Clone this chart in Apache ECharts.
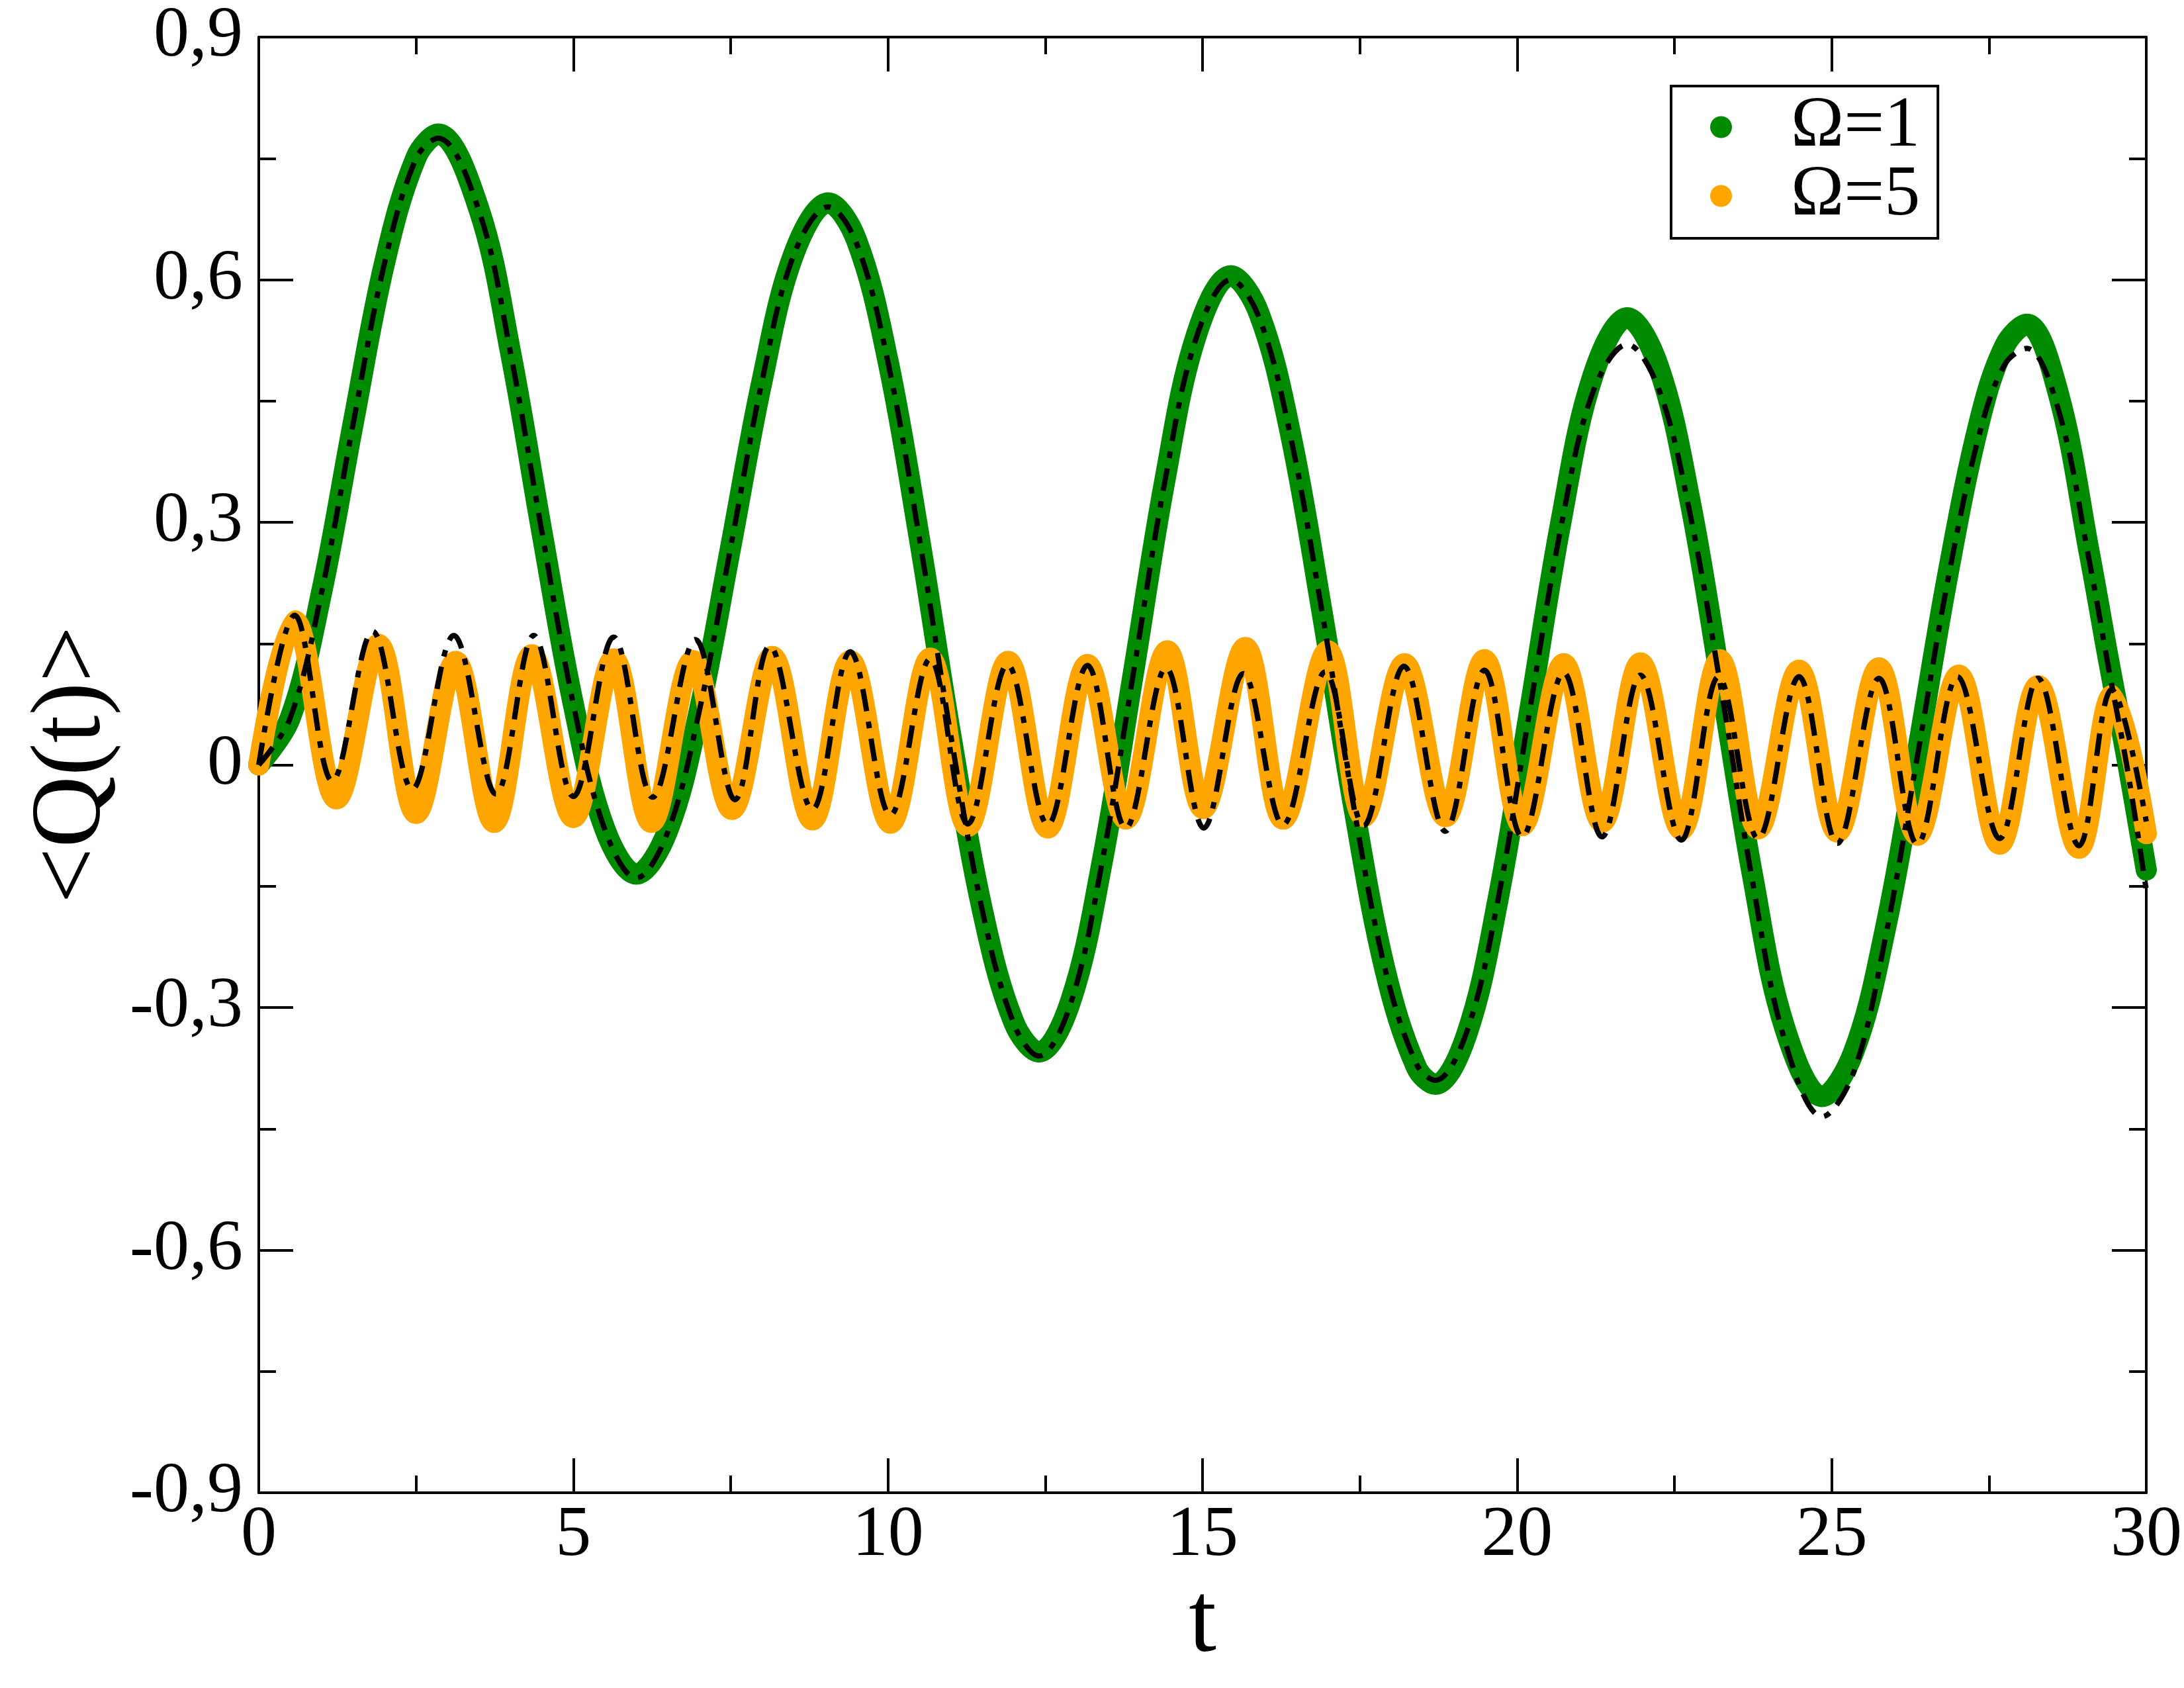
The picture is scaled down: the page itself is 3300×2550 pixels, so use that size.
<!DOCTYPE html>
<html>
<head>
<meta charset="utf-8">
<script src="https://cdn.jsdelivr.net/npm/echarts@6/dist/echarts.min.js"></script>
<style>
  html, body { margin: 0; padding: 0; background: #fff; }
  #chart { width: 3300px; height: 2550px; }
</style>
</head>
<body>
<div id="chart"></div>
<script>
// ---- Data ----
// Omega = 1 (green band) and its dashed black companion share the same t values
const tOmega1 = [0, 0.5, 1.0, 1.5, 2.0, 2.5, 2.85, 3.5, 4.0, 4.5, 5.0, 5.5, 6.0, 6.5, 7.0, 7.5, 8.0, 8.5, 9.05, 9.5, 10.0, 10.5, 11.0, 11.5, 12.0, 12.4, 12.9, 13.4, 13.9, 14.4, 14.9, 15.45, 15.9, 16.4, 16.9, 17.4, 17.9, 18.4, 18.7, 19.2, 19.7, 20.2, 20.7, 21.2, 21.75, 22.25, 22.75, 23.25, 23.75, 24.25, 24.85, 25.35, 25.85, 26.35, 26.85, 27.35, 27.75, 28.1, 28.6, 29.1, 29.4, 29.7, 30.0];
const qOmega1 = [0, 0.058, 0.214, 0.422, 0.621, 0.751, 0.78, 0.687, 0.511, 0.288, 0.075, -0.079, -0.135, -0.081, 0.066, 0.269, 0.475, 0.631, 0.695, 0.649, 0.500, 0.280, 0.036, -0.179, -0.318, -0.355, -0.293, -0.122, 0.113, 0.351, 0.531, 0.605, 0.558, 0.409, 0.189, -0.050, -0.253, -0.374, -0.395, -0.333, -0.165, 0.067, 0.302, 0.480, 0.553, 0.492, 0.326, 0.096, -0.140, -0.324, -0.41, -0.355, -0.204, 0.010, 0.237, 0.425, 0.518, 0.545, 0.46, 0.26, 0.13, 0.005, -0.13];
const qFit1 = [0, 0.058, 0.214, 0.422, 0.621, 0.750, 0.775, 0.685, 0.510, 0.288, 0.075, -0.080, -0.140, -0.083, 0.066, 0.269, 0.475, 0.630, 0.690, 0.645, 0.498, 0.280, 0.036, -0.180, -0.320, -0.360, -0.296, -0.122, 0.113, 0.350, 0.528, 0.600, 0.553, 0.406, 0.189, -0.050, -0.252, -0.370, -0.390, -0.330, -0.165, 0.067, 0.295, 0.460, 0.520, 0.465, 0.310, 0.090, -0.148, -0.340, -0.435, -0.380, -0.215, 0.005, 0.230, 0.410, 0.495, 0.515, 0.440, 0.250, 0.120, -0.005, -0.155];

// Omega = 5 (orange band): peaks and troughs
const tOmega5 = [0, 0.57, 1.235, 1.90, 2.50, 3.13, 3.74, 4.34, 5.0, 5.64, 6.24, 6.9, 7.52, 8.16, 8.80, 9.40, 10.04, 10.67, 11.27, 11.91, 12.54, 13.17, 13.78, 14.44, 15.01, 15.68, 16.28, 16.99, 17.56, 18.21, 18.86, 19.48, 20.08, 20.74, 21.35, 21.96, 22.61, 23.22, 23.83, 24.48, 25.09, 25.75, 26.36, 27.02, 27.67, 28.28, 28.93, 29.46, 30.0];
const qOmega5 = [0, 0.178, -0.042, 0.149, -0.060, 0.128, -0.071, 0.136, -0.065, 0.131, -0.071, 0.129, -0.055, 0.134, -0.068, 0.129, -0.072, 0.132, -0.076, 0.128, -0.078, 0.124, -0.067, 0.141, -0.054, 0.145, -0.067, 0.141, -0.064, 0.125, -0.064, 0.130, -0.075, 0.125, -0.071, 0.126, -0.080, 0.130, -0.079, 0.117, -0.083, 0.120, -0.087, 0.111, -0.098, 0.098, -0.103, 0.086, -0.085];

// dashed black companion of Omega = 5
const tFit5 = [0, 0.57, 1.17, 1.81, 2.44, 3.10, 3.77, 4.37, 5.0, 5.64, 6.26, 6.94, 7.57, 8.12, 8.80, 9.40, 10.04, 10.67, 11.27, 11.90, 12.54, 13.17, 13.78, 14.42, 15.02, 15.65, 16.28, 16.95, 17.56, 18.2, 18.86, 19.48, 20.08, 20.74, 21.35, 21.96, 22.61, 23.2, 23.83, 24.48, 25.09, 25.75, 26.36, 27.0, 27.67, 28.28, 28.93, 29.45, 30.0];
const qFit5 = [0, 0.185, -0.020, 0.165, -0.030, 0.160, -0.036, 0.160, -0.039, 0.158, -0.040, 0.155, -0.043, 0.147, -0.055, 0.140, -0.062, 0.131, -0.073, 0.124, -0.074, 0.123, -0.078, 0.120, -0.078, 0.113, -0.074, 0.115, -0.075, 0.122, -0.082, 0.117, -0.089, 0.114, -0.089, 0.111, -0.093, 0.109, -0.091, 0.109, -0.097, 0.107, -0.098, 0.109, -0.091, 0.107, -0.100, 0.093, -0.070];

// axis ticks
const xTicks = [0, 5, 10, 15, 20, 25, 30];
const yTicks = [-0.9, -0.6, -0.3, 0, 0.3, 0.6, 0.9];
const legendNames = ['\u03A9=1', '\u03A9=5'];

// ---- Chart ----
const zip = (ts, qs) => ts.map((t, i) => [t, qs[i]]);
const FONT = "'Liberation Serif', 'Times New Roman', Times, serif";
const fmt = v => {
  const r = Math.round(v * 10) / 10;
  return (r === 0 ? '0' : String(r)).replace('.', ',');
};

const tickStyle = { color: '#000', width: 4 };
function xAxisDef(pos, labels) {
  return {
    type: 'value', position: pos,
    min: xTicks[0], max: xTicks[xTicks.length - 1], interval: xTicks[1] - xTicks[0],
    axisLine: { show: true, onZero: false, lineStyle: { color: '#000', width: 4 } },
    axisTick: { show: true, inside: true, length: 52, lineStyle: tickStyle },
    minorTick: { show: true, splitNumber: 2, length: 26, lineStyle: tickStyle },
    splitLine: { show: false },
    axisLabel: { show: labels, fontFamily: FONT, fontSize: 108, color: '#000', margin: 12, showMinLabel: true, showMaxLabel: true },
    name: labels ? 't' : '',
    nameLocation: 'middle', nameGap: 91,
    nameTextStyle: { fontFamily: FONT, fontSize: 150, color: '#000' }
  };
}
function yAxisDef(pos, labels) {
  return {
    type: 'value', position: pos,
    min: yTicks[0], max: yTicks[yTicks.length - 1], interval: 0.3,
    axisLine: { show: true, onZero: false, lineStyle: { color: '#000', width: 4 } },
    axisTick: { show: true, inside: true, length: 52, lineStyle: tickStyle },
    minorTick: { show: true, splitNumber: 2, length: 26, lineStyle: tickStyle },
    splitLine: { show: false },
    axisLabel: { show: labels, fontFamily: FONT, fontSize: 108, color: '#000', margin: 24, formatter: fmt, showMinLabel: true, showMaxLabel: true },
    name: labels ? '<Q(t)>' : '',
    nameLocation: 'middle', nameGap: 205, nameRotate: 90,
    nameTextStyle: { fontFamily: FONT, fontSize: 150, color: '#000' }
  };
}

const chart = echarts.init(document.getElementById('chart'), null, { renderer: 'canvas', width: 3300, height: 2550 });
chart.setOption({
  animation: false,
  backgroundColor: '#fff',
  grid: { left: 391, right: 54, top: 56, bottom: 295, containLabel: false },
  xAxis: [xAxisDef('bottom', true), xAxisDef('top', false)],
  yAxis: [yAxisDef('left', true), yAxisDef('right', false)],
  legend: {
    data: [{ name: legendNames[0], icon: 'circle' }, { name: legendNames[1], icon: 'circle' }],
    orient: 'vertical',
    left: 2525, top: 130,
    padding: [8, 27, 10, 59],
    itemWidth: 33, itemHeight: 33, itemGap: -4,
    borderColor: '#000', borderWidth: 4, borderRadius: 0,
    backgroundColor: '#fff',
    selectedMode: false,
    textStyle: { fontFamily: FONT, fontSize: 108, color: '#000', padding: [0, 0, 0, 84] }
  },
  series: [
    {
      name: legendNames[0], type: 'line', data: zip(tOmega1, qOmega1),
      smooth: 0.36, showSymbol: false, clip: false, z: 2,
      color: '#008b00',
      lineStyle: { color: '#008b00', width: 32, cap: 'round', join: 'round' }
    },
    {
      name: legendNames[1], type: 'line', data: zip(tOmega5, qOmega5),
      smooth: 0.36, showSymbol: false, clip: false, z: 3,
      color: '#ffa500',
      lineStyle: { color: '#ffa500', width: 32, cap: 'round', join: 'round' }
    },
    {
      name: 'fit1', type: 'line', data: zip(tOmega1, qFit1),
      smooth: 0.36, showSymbol: false, clip: false, z: 4,
      color: '#000',
      lineStyle: { color: '#000', width: 8, type: [34, 16, 10, 16] }
    },
    {
      name: 'fit5', type: 'line', data: zip(tFit5, qFit5),
      smooth: 0.36, showSymbol: false, clip: false, z: 5,
      color: '#000',
      lineStyle: { color: '#000', width: 8, type: [34, 16, 10, 16] }
    }
  ]
});
</script>
</body>
</html>
